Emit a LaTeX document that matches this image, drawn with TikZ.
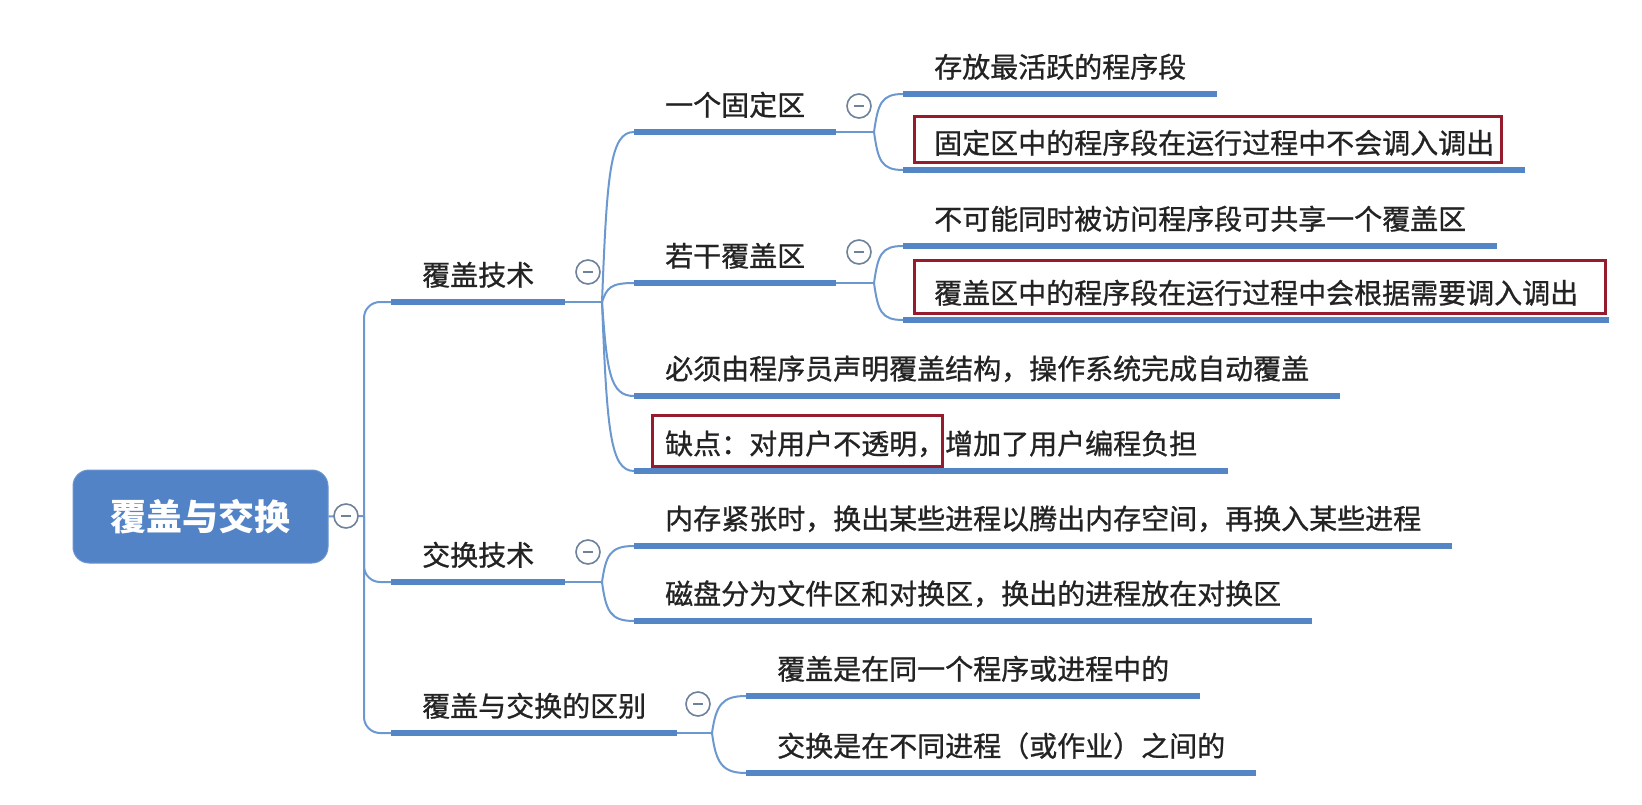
\documentclass[tikz,border=0pt]{standalone}
\usepackage{fontspec}
\newfontfamily\cjk[FakeBold=0.9]{Noto Sans CJK SC}
\newfontfamily\cjkroot{Noto Sans CJK SC}
\definecolor{rootc}{RGB}{82,131,198}
\definecolor{ulc}{RGB}{84,133,196}
\definecolor{connc}{RGB}{108,152,208}
\definecolor{btnc}{RGB}{110,130,155}
\definecolor{redc}{RGB}{150,28,45}
\definecolor{txtc}{RGB}{35,35,35}
\begin{document}
\begin{tikzpicture}[x=1pt,y=-1pt,
  topic/.style={font=\cjk\fontsize{28}{30}\selectfont, text=txtc, inner xsep=31pt, inner ysep=0pt, minimum height=54pt, anchor=south west},
  rootbox/.style={rectangle, rounded corners=16pt, fill=rootc, draw=rootc!85!white, line width=1pt, minimum width=255pt, minimum height=93pt, text=white, font=\cjkroot\bfseries\fontsize{36}{38}\selectfont},
  uline/.style={draw=ulc, line width=6pt},
  conn/.style={draw=connc, line width=2pt},
  collapse/.style={circle, draw=btnc, line width=1.6pt, fill=white, minimum size=24pt, inner sep=0pt},
  minus/.style={draw=btnc, line width=1.6pt},
  redbox/.style={draw=redc, line width=3pt}]
\useasboundingbox[fill=white] (0,0) rectangle (1642,805);

% nodes
\node[rootbox] (root) at (200.5,516.5) {覆盖与交换};
\node[topic] (cov) at (391,302) {覆盖技术};
\node[topic] (swp) at (391,582) {交换技术};
\node[topic] (dif) at (391,733) {覆盖与交换的区别};
\node[topic] (fix) at (634,132) {一个固定区};
\node[topic] (sev) at (634,283) {若干覆盖区};
\node[topic] (must) at (634,396) {必须由程序员声明覆盖结构，操作系统完成自动覆盖};
\node[topic] (dis) at (634,471) {缺点：对用户不透明，增加了用户编程负担};
\node[topic] (mem) at (634,546) {内存紧张时，换出某些进程以腾出内存空间，再换入某些进程};
\node[topic] (disk) at (634,621) {磁盘分为文件区和对换区，换出的进程放在对换区};
\node[topic] (d1) at (746,696) {覆盖是在同一个程序或进程中的};
\node[topic] (d2) at (746,773) {交换是在不同进程（或作业）之间的};
\node[topic] (f1) at (903,94) {存放最活跃的程序段};
\node[topic] (f2) at (903,170) {固定区中的程序段在运行过程中不会调入调出};
\node[topic] (s1) at (903,246) {不可能同时被访问程序段可共享一个覆盖区};
\node[topic] (s2) at (903,320) {覆盖区中的程序段在运行过程中会根据需要调入调出};

% branch points
\coordinate (broot) at (364,516);
\coordinate (bcov) at (602,302);
\coordinate (bfix) at (874,132);
\coordinate (bsev) at (874,283);
\coordinate (bswp) at (602,582);
\coordinate (bdif) at (712,733);

% connectors
\draw[conn] (root.east) -- (broot);
\draw[conn, rounded corners=16pt] (broot) |- (cov.south west);
\draw[conn, rounded corners=16pt] (broot) |- (swp.south west);
\draw[conn, rounded corners=16pt] (broot) |- (dif.south west);

\draw[conn] (cov.south east) -- (bcov);
\draw[conn] (bcov) .. controls +(5,-128) and +(-24,0) .. (fix.south west);
\draw[conn] (bcov) .. controls +(5,-14) and +(-24,0) .. (sev.south west);
\draw[conn] (bcov) .. controls +(5,70) and +(-24,0) .. (must.south west);
\draw[conn] (bcov) .. controls +(5,127) and +(-24,0) .. (dis.south west);

\draw[conn] (fix.south east) -- (bfix);
\draw[conn] (bfix) .. controls +(4,-28) and +(-22,0) .. (f1.south west);
\draw[conn] (bfix) .. controls +(4,28) and +(-22,0) .. (f2.south west);

\draw[conn] (sev.south east) -- (bsev);
\draw[conn] (bsev) .. controls +(4,-28) and +(-22,0) .. (s1.south west);
\draw[conn] (bsev) .. controls +(4,28) and +(-22,0) .. (s2.south west);

\draw[conn] (swp.south east) -- (bswp);
\draw[conn] (bswp) .. controls +(4,-27) and +(-24,0) .. (mem.south west);
\draw[conn] (bswp) .. controls +(4,29) and +(-24,0) .. (disk.south west);

\draw[conn] (dif.south east) -- (bdif);
\draw[conn] (bdif) .. controls +(4,-28) and +(-24,0) .. (d1.south west);
\draw[conn] (bdif) .. controls +(4,30) and +(-24,0) .. (d2.south west);

% underlines
\foreach \n in {cov,swp,dif,fix,sev,must,dis,mem,disk,d1,d2,f1,f2,s1,s2}
  \draw[uline] (\n.south west) -- (\n.south east);

% collapse buttons
\node[collapse] (c0) at (346,516) {};
\node[collapse] (c1) at (588,272) {};
\node[collapse] (c2) at (859,106) {};
\node[collapse] (c3) at (859,252) {};
\node[collapse] (c4) at (588,552) {};
\node[collapse] (c5) at (698,704) {};
\foreach \c in {c0,c1,c2,c3,c4,c5}
  \draw[minus] ([xshift=-5pt]\c.center) -- ([xshift=5pt]\c.center);

% red annotation boxes
\draw[redbox] ([shift={(11,-7)}]f2.south west) rectangle ([shift={(-24,1)}]f2.north east);
\draw[redbox] ([shift={(11,-7)}]s2.south west) rectangle ([shift={(-4,-5)}]s2.north east);
\draw[redbox] ([shift={(18,-5)}]dis.south west) rectangle ([shift={(308,-1)}]dis.north west);
\end{tikzpicture}
\end{document}
